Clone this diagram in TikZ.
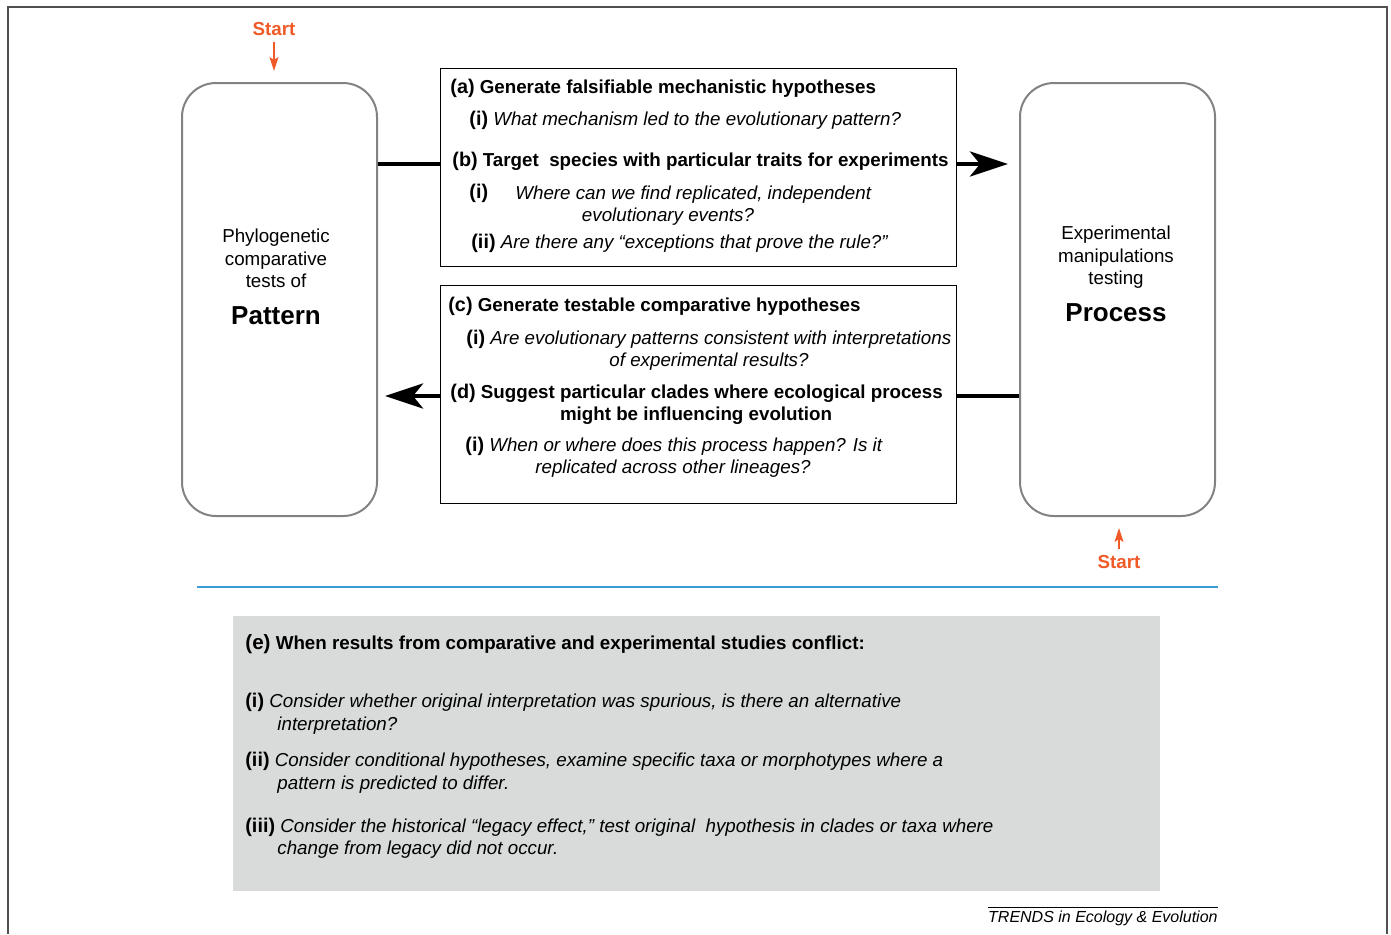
\documentclass[tikz,border=0pt]{standalone}
\usepackage{fontspec}
\setmainfont{Liberation Sans}
\usetikzlibrary{arrows.meta}
\definecolor{startc}{RGB}{240,90,40}
\definecolor{framec}{RGB}{80,80,80}
\definecolor{roundc}{RGB}{130,130,130}
\definecolor{bluec}{RGB}{60,155,215}
\definecolor{grayfill}{RGB}{217,219,218}
\newcommand{\bodyfont}{\fontsize{9.38}{11}\selectfont}
\newcommand{\labfont}{\fontsize{9.9}{11}\selectfont}
\begin{document}
\begin{tikzpicture}[x=0.5pt,y=-0.5pt,
  font=\bodyfont,
  txt/.style={anchor=base west,inner sep=0pt},
  ctxt/.style={anchor=base,inner sep=0pt},
  hd/.style={txt,font=\bodyfont\bfseries},
  itx/.style={txt,font=\bodyfont\itshape},
  citx/.style={ctxt,font=\bodyfont\itshape},
  rbox/.style={draw=roundc,line width=1pt,rounded corners=17pt,anchor=north west,minimum width=97.5pt,minimum height=216.5pt,inner sep=0pt},
  tbox/.style={draw=black,line width=0.7pt,anchor=north west,minimum width=258pt,inner sep=0pt},
  conn/.style={line width=2.4pt,black},
  bigarrow/.style={conn,-{Stealth[length=19pt,width=12.5pt,inset=5pt]}},
  startarrow/.style={startc,line width=0.6pt,-{Stealth[length=7pt,width=4.5pt,inset=1.5pt]}},
  starttxt/.style={ctxt,text=startc,font=\fontsize{9.4}{11}\selectfont\bfseries}
]
\useasboundingbox (0,0) rectangle (1391,934);
% outer frame
\draw[framec,line width=1pt] (8,934) -- (8,7) -- (1387,7) -- (1387,934);

% main boxes
\node[rbox] (pat) at (181,82) {};
\node[rbox] (proc) at (1019,82) {};
\node[tbox,minimum height=99pt] (boxA) at (440,68) {};
\node[tbox,minimum height=109pt] (boxB) at (440,285) {};

% Pattern box text
\node[ctxt] (p1) at (276,242) {Phylogenetic};
\node[ctxt] (p2) at (276,265) {comparative};
\node[ctxt] (p3) at (276,287) {tests of};
\node[ctxt,font=\fontsize{13}{15}\selectfont\bfseries] (p4) at (276,324) {Pattern};

% Process box text
\node[ctxt] (q1) at (1116,239) {Experimental};
\node[ctxt] (q2) at (1116,262) {manipulations};
\node[ctxt] (q3) at (1116,284) {testing};
\node[ctxt,font=\fontsize{13}{15}\selectfont\bfseries] (q4) at (1116,321) {Process};

% Box A text
\node[hd] (a0) at (450,93) {{\labfont(a)} Generate falsifiable mechanistic hypotheses};
\node[txt] (a1) at (469,125) {{\labfont\bfseries(i)} \itshape What mechanism led to the evolutionary pattern?};
\node[hd] (b0) at (452,166) {{\labfont(b)} Target\ \ species with particular traits for experiments};
\node[hd] (b1l) at (469,198) {\labfont(i)};
\node[itx] (b1) at (515,199) {Where can we find replicated, independent};
\node[citx] (b1b) at (668,221) {evolutionary events?};
\node[txt] (b2) at (471,248) {{\labfont\bfseries(ii)} \itshape Are there any “exceptions that prove the rule?”};

% Box B text
\node[hd] (c0) at (448,311) {{\labfont(c)} Generate testable comparative hypotheses};
\node[txt] (c1) at (466,344) {{\labfont\bfseries(i)} \itshape Are evolutionary patterns consistent with interpretations};
\node[citx] (c1b) at (709,366) {of experimental results?};
\node[hd] (d0) at (450,398) {{\labfont(d)} Suggest particular clades where ecological process};
\node[ctxt,font=\bodyfont\bfseries] (d0b) at (696,420) {might be influencing evolution};
\node[txt] (d1) at (465,451) {{\labfont\bfseries(i)} \itshape When or where does this process happen? Is it};
\node[citx] (d1b) at (673,473) {replicated across other lineages?};

% connectors
\coordinate (yTop) at (0,164);
\coordinate (yBot) at (0,396);
\draw[conn] (pat.east |- yTop) -- (boxA.west |- yTop);
\draw[bigarrow,shorten >=5.5pt] (boxA.east |- yTop) -- (proc.west |- yTop);
\draw[conn] (proc.west |- yBot) -- (boxB.east |- yBot);
\draw[bigarrow,shorten >=3.5pt] (boxB.west |- yBot) -- (pat.east |- yBot);

% Start markers
\node[starttxt] (startA) at (274,35.5) {Start};
\draw[startarrow,shorten <=3pt,shorten >=5.5pt] (startA.south) -- (startA.south |- pat.north);
\node[starttxt] (startB) at (1119,568) {Start};
\draw[startarrow,shorten <=2.5pt,shorten >=5.5pt] (startB.north) -- (startB.north |- proc.south);

% blue rule
\coordinate (blueL) at (197,587);
\coordinate (blueR) at (1218,587);
\draw[bluec,line width=1.3pt] (blueL) -- (blueR);

% gray box
\node[fill=grayfill,anchor=north west,minimum width=463.5pt,minimum height=137.5pt,inner sep=0pt] (ebox) at (233,616) {};
\node[hd] (e0) at (245,649) {{\fontsize{10.3}{11}\selectfont(e)} When results from comparative and experimental studies conflict:};
\node[txt] (e1) at (245,707) {{\labfont\bfseries(i)} \itshape Consider whether original interpretation was spurious, is there an alternative};
\node[itx] (e1b) at (277,730) {interpretation?};
\node[txt] (e2) at (245,766) {{\labfont\bfseries(ii)} \itshape Consider conditional hypotheses, examine specific taxa or morphotypes where a};
\node[itx] (e2b) at (277,789) {pattern is predicted to differ.};
\node[txt] (e3) at (245,832) {{\labfont\bfseries(iii)} \itshape Consider the historical “legacy effect,” test original\ \ hypothesis in clades or taxa where};
\node[itx] (e3b) at (277,854) {change from legacy did not occur.};

% footer
\node[anchor=base east,inner sep=0pt,font=\fontsize{8}{10}\selectfont\itshape] (trends) at (1218,922) {TRENDS in Ecology \& Evolution};
\draw[line width=0.4pt] ([yshift=1.5pt]trends.north west) -- ([yshift=1.5pt]trends.north east);
\end{tikzpicture}
\end{document}
